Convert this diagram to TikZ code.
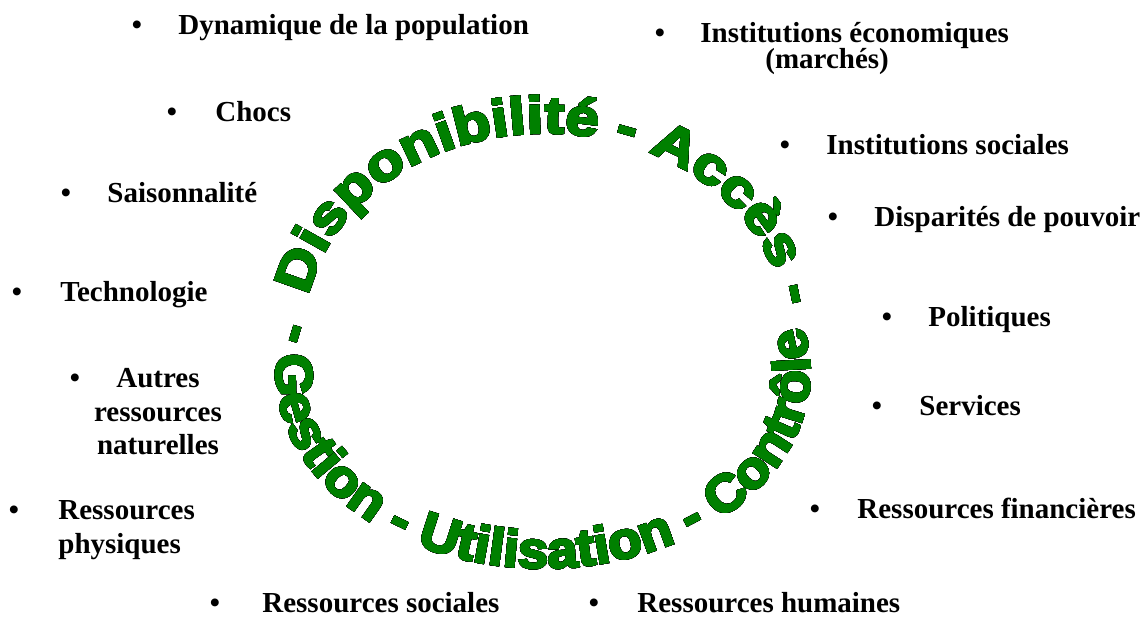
\documentclass[tikz,border=0pt]{standalone}
\usepackage{fontspec}
\setmainfont{Liberation Serif}
% two widths of the same heavy sans for the upper and lower runs of the ring
\newfontfamily\watop[FakeStretch=1.16,FakeBold=4]{Liberation Sans}
\newfontfamily\wabot[FakeStretch=1.06,FakeBold=4]{Liberation Sans}
\usetikzlibrary{decorations.text}
\definecolor{wagreen}{RGB}{0,128,0}
% label font and the lettering of the ring
\newcommand\lbl{\bfseries\fontsize{14.5pt}{16.75pt}\selectfont}
\newcommand\watopstyle{\watop\bfseries\fontsize{26pt}{26pt}\selectfont}
\newcommand\wabotstyle{\wabot\bfseries\fontsize{26pt}{26pt}\selectfont}
\tikzset{
  bul/.style={font=\lbl, inner sep=0pt, anchor=base},
  lab/.style={font=\lbl, inner sep=0pt, anchor=base west},
  labc/.style={font=\lbl, inner sep=0pt, anchor=base},
  ring top/.style={decorate, decoration={text along path,
      text={|\watopstyle|Disponibilité - Accès -}, text color=#1, text align=left}},
  ring bot/.style={decorate, decoration={text along path,
      text={|\wabotstyle|- Gestion - Utilisation - Contrôle}, text color=#1, text align=left}},
}
\begin{document}
\begin{tikzpicture}[x=0.5pt,y=-0.5pt]
\path[use as bounding box] (0,0) rectangle (1145,619);

% centres of the two baseline ellipses of the ring lettering
\coordinate (topc) at (545,330);
\coordinate (botc) at (543,372);

% black halo: the lettering repeated with small offsets all round
\foreach \a in {0,30,...,330}{
  \path[ring top=black, shift={(\a:2)}]
    ([shift={(190:240 and 197)}]topc) arc[start angle=190, end angle=385, x radius=240, y radius=197];
  \path[ring bot=black, shift={(\a:2)}]
    ([shift={(195:267 and 196)}]botc) arc[start angle=195, end angle=-35, x radius=267, y radius=196];
}
% green lettering on top
\path[ring top=wagreen]
  ([shift={(190:240 and 197)}]topc) arc[start angle=190, end angle=385, x radius=240, y radius=197];
\path[ring bot=wagreen]
  ([shift={(195:267 and 196)}]botc) arc[start angle=195, end angle=-35, x radius=267, y radius=196];

% bullet list around the ring
\node[bul] (b1) at (137,35) {•};
\node[lab] (t1) at (178,35) {Dynamique de la population};

\node[bul] (b2) at (660,43) {•};
\node[lab] (t2) at (700,43) {Institutions économiques};
\node[lab] (t2b) at (765,69) {(marchés)};

\node[bul] (b3) at (172,122) {•};
\node[lab] (t3) at (215,122) {Chocs};

\node[bul] (b4) at (785,155) {•};
\node[lab] (t4) at (826,155) {Institutions sociales};

\node[bul] (b5) at (66,203) {•};
\node[lab] (t5) at (107,203) {Saisonnalité};

\node[bul] (b6) at (833,227) {•};
\node[lab] (t6) at (874,227) {Disparités de pouvoir};

\node[bul] (b7) at (17,302) {•};
\node[lab] (t7) at (60,302) {Technologie};

\node[bul] (b8) at (887,327) {•};
\node[lab] (t8) at (928,327) {Politiques};

\node[bul] (b9) at (75,388) {•};
\node[labc] (t9a) at (158,388) {Autres};
\node[labc] (t9b) at (158,422) {ressources};
\node[labc] (t9c) at (158,455) {naturelles};

\node[bul] (b10) at (877,416) {•};
\node[lab] (t10) at (919,416) {Services};

\node[bul] (b11) at (14,520) {•};
\node[lab] (t11a) at (58,520) {Ressources};
\node[lab] (t11b) at (58,553) {physiques};

\node[bul] (b12) at (815,518) {•};
\node[lab] (t12) at (857,518) {Ressources financières};

\node[bul] (b13) at (215,612) {•};
\node[lab] (t13) at (262,612) {Ressources sociales};

\node[bul] (b14) at (594,612) {•};
\node[lab] (t14) at (637,612) {Ressources humaines};
\end{tikzpicture}
\end{document}
